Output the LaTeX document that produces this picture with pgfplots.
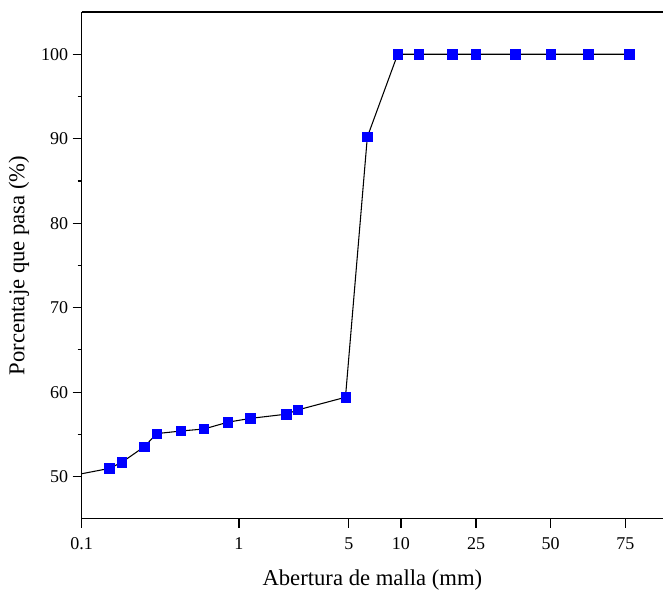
\documentclass[border=0pt]{standalone}
\usepackage{pgfplots}
\pgfplotsset{compat=1.18}
\usepackage{fontspec}
\setmainfont{Liberation Serif}
\definecolor{markblue}{RGB}{0,0,255}

% x is plotted in decades from 0.1 mm (log10 of the aperture) as the picture places it
\pgfplotstableread{
u      pasa
-1.000 50.35
-0.824 50.98
-0.745 51.70
-0.602 53.55
-0.523 55.10
-0.372 55.40
-0.222 55.65
-0.071 56.45
 0.072 56.90
 0.301 57.40
 0.373 57.90
 0.677 59.40
 0.816 90.20
 1.009 100
 1.142 100
 1.356 100
 1.505 100
 1.757 100
 1.982 100
 2.221 100
 2.481 100
}\granulo

\begin{document}
\begin{tikzpicture}
\begin{axis}[
  scale only axis,
  width=436pt, height=380.25pt,
  xmin=-1, xmax=2.696, ymin=45, ymax=105,
  axis lines=left, axis line style={-, line width=0.8pt},
  tick align=outside, tick pos=left,
  major tick length=6.75pt, minor tick length=3pt,
  every tick/.style={black, line width=0.8pt},
  xtick={-1,0,0.699,1.03,1.507,1.982,2.456},
  xticklabels={0.1,1,5,10,25,50,75},
  ytick={50,60,70,80,90,100}, minor y tick num=1,
  tick label style={font=\fontsize{13.5}{15}\selectfont},
  xticklabel style={yshift=-4pt},
  /pgf/number format/assume math mode=true,
  xlabel={Abertura de malla (mm)}, ylabel={Porcentaje que pasa (\%)},
  label style={font=\fontsize{17}{19}\selectfont},
  xlabel style={yshift=-8pt},
  ylabel style={yshift=2pt},
]
\addplot[black, line width=0.8pt, no marks] table[x=u, y=pasa] {\granulo};
\addplot[only marks, mark=square*, mark size=3.5pt, draw=markblue, fill=markblue]
  table[x=u, y=pasa, skip coords between index={0}{1}] {\granulo};
\draw[line width=0.8pt] (rel axis cs:0,1) -- (rel axis cs:1,1);
\end{axis}
\pgfresetboundingbox
\path ([shift={(-61.3pt,-58.5pt)}]current axis.south west) rectangle ([shift={(0pt,9pt)}]current axis.north east);
\end{tikzpicture}
\end{document}
